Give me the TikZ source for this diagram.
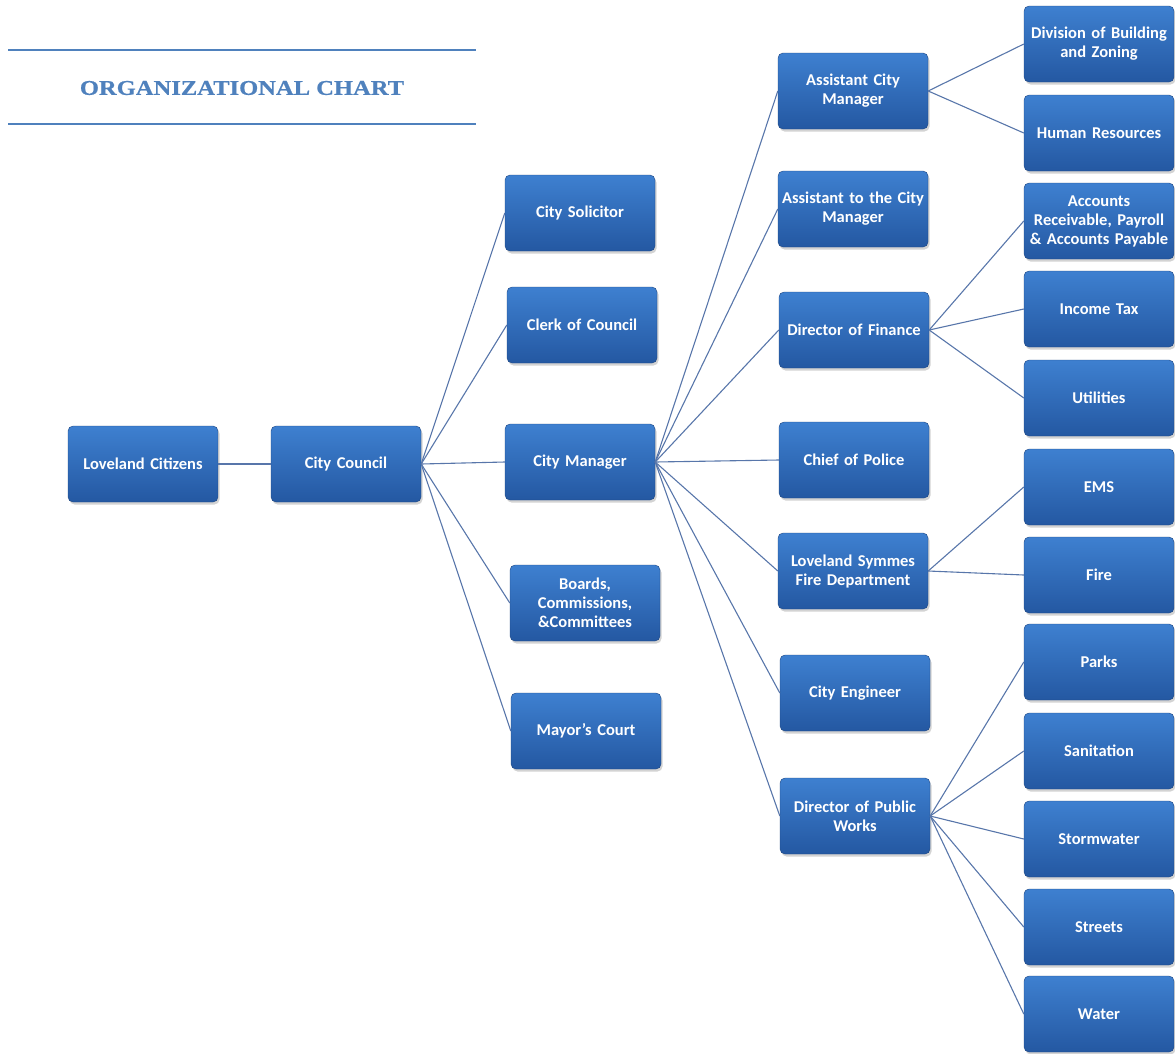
\documentclass[tikz,border=0pt]{standalone}
\usepackage{fontspec}
\setmainfont{Carlito}
\newfontfamily\titlefont[FakeStretch=1.17, FakeBold=0.6]{Liberation Serif Bold}
\usetikzlibrary{positioning,shadows}
\definecolor{boxtop}{RGB}{62,128,208}
\definecolor{boxbottom}{RGB}{36,88,162}
\definecolor{linkblue}{RGB}{88,118,170}
\definecolor{titleblue}{RGB}{79,129,189}

\begin{document}
\begin{tikzpicture}[x=1pt,y=-1pt,
        orgbox/.style={rectangle, rounded corners=5pt, top color=boxtop, bottom color=boxbottom,
          draw=boxbottom!80!black, line width=0.4pt, minimum width=150pt, minimum height=76pt,
          inner xsep=2pt, text width=146pt, align=center, text=white,
          font=\fontsize{16.5}{19}\selectfont\bfseries,
          drop shadow={shadow xshift=1.5pt, shadow yshift=-2.5pt, opacity=0.35}},
        link/.style={draw=linkblue, line width=1.1pt},
      ]
      \useasboundingbox (0,0) rectangle (1175,1053);

      % Title
      \coordinate (rule_top_l) at (8,50);
      \coordinate (rule_top_r) at (476,50);
      \coordinate (rule_bot_l) at (8,124);
      \coordinate (rule_bot_r) at (476,124);
      \draw[titleblue, line width=2pt] (rule_top_l) -- (rule_top_r);
      \draw[titleblue, line width=1.5pt] (rule_bot_l) -- (rule_bot_r);
      \node[text=titleblue, font=\titlefont\fontsize{21}{24}\selectfont] (title) at (242,88) {ORGANIZATIONAL CHART};

      % Nodes
      \node[orgbox] (citizens) at (143,464) {Loveland Citizens};
      \node[orgbox] (council) at (346,464) {City Council};

      \node[orgbox] (solicitor) at (580,213) {City Solicitor};
      \node[orgbox] (clerk) at (582,325) {Clerk of Council};
      \node[orgbox] (manager) at (580,462) {City Manager};
      \node[orgbox] (boards) at (585,603) {Boards,\\Commissions,\\\&Committees};
      \node[orgbox] (mayors_court) at (586,731) {Mayor's Court};

      \node[orgbox] (asst_manager) at (853,91) {Assistant City\\Manager};
      \node[orgbox] (asst_to_manager) at (853,209) {Assistant to the City\\Manager};
      \node[orgbox] (finance) at (854,330) {Director of Finance};
      \node[orgbox] (police) at (854,460) {Chief of Police};
      \node[orgbox] (fire_dept) at (853,571) {Loveland Symmes\\Fire Department};
      \node[orgbox] (engineer) at (855,693) {City Engineer};
      \node[orgbox] (public_works) at (855,816) {Director of Public\\Works};

      \node[orgbox] (building) at (1099,44) {Division of Building\\and Zoning};
      \node[orgbox] (hr) at (1099,133) {Human Resources};
      \node[orgbox] (accounts) at (1099,221) {Accounts\\Receivable, Payroll\\\& Accounts Payable};
      \node[orgbox] (income_tax) at (1099,309) {Income Tax};
      \node[orgbox] (utilities) at (1099,398) {Utilities};
      \node[orgbox] (ems) at (1099,487) {EMS};
      \node[orgbox] (fire) at (1099,575) {Fire};
      \node[orgbox] (parks) at (1099,662) {Parks};
      \node[orgbox] (sanitation) at (1099,751) {Sanitation};
      \node[orgbox] (stormwater) at (1099,839) {Stormwater};
      \node[orgbox] (streets) at (1099,927) {Streets};
      \node[orgbox] (water) at (1099,1014) {Water};

      % Lines
      \draw[link] (citizens) -- (council);
      \foreach \child in {solicitor,clerk,manager,boards,mayors_court}
        \draw[link] (council.east) -- (\child.west);
      \foreach \child in {asst_manager,asst_to_manager,finance,police,fire_dept,engineer,public_works}
        \draw[link] (manager.east) -- (\child.west);
      \foreach \child in {building,hr}
        \draw[link] (asst_manager.east) -- (\child.west);
      \foreach \child in {accounts,income_tax,utilities}
        \draw[link] (finance.east) -- (\child.west);
      \foreach \child in {ems,fire}
        \draw[link] (fire_dept.east) -- (\child.west);
      \foreach \child in {parks,sanitation,stormwater,streets,water}
        \draw[link] (public_works.east) -- (\child.west);
    \end{tikzpicture}
\end{document}
